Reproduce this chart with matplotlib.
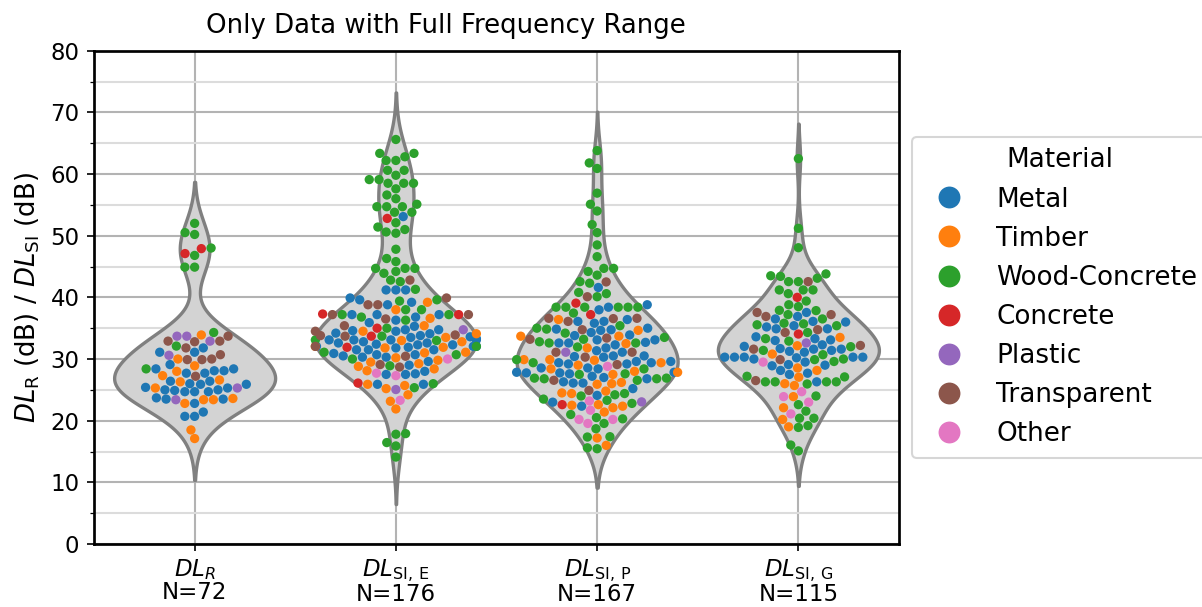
import matplotlib
matplotlib.use("Agg")
import matplotlib.pyplot as plt
from matplotlib.lines import Line2D
from matplotlib.ticker import MultipleLocator
import numpy as np

# material classes and their colours (tab10)
materials = ["Metal", "Timber", "Wood-Concrete", "Concrete", "Plastic", "Transparent", "Other"]
colors = ["#1f77b4", "#ff7f0e", "#2ca02c", "#d62728", "#9467bd", "#8c564b", "#e377c2"]

# DL_R values per material (dB)
dl_r = {
    "Metal": [31.1, 31.8, 31.1, 28.4, 27.7, 27.7, 28.1, 28.1, 28.4, 29.1, 25.9, 25.3, 24.9, 26.4, 26.4,
              24.7, 24.7, 24.7, 25.0, 25.0, 25.4, 25.9, 23.5, 22.8, 23.5, 23.7, 20.7, 20.7, 21.4, 26.0],
    "Timber": [33.9, 30.0, 28.9, 28.0, 27.3, 26.3, 26.6, 25.3, 23.6, 23.4, 22.8, 23.4, 18.5, 17.1],
    "Wood-Concrete": [52.0, 50.5, 50.2, 48.0, 46.8, 44.9, 44.9, 34.3, 32.1, 28.4],
    "Concrete": [47.1, 47.9],
    "Plastic": [33.7, 33.7, 32.9, 30.6, 25.3, 23.4],
    "Transparent": [33.7, 32.9, 31.8, 32.8, 32.9, 30.7, 29.9, 29.9, 30.0, 27.2],
    "Other": [],
}

# DL_SI,E values per material (dB)
dl_si_e = {
    "Metal": [53.1, 41.2, 41.2, 41.2, 39.2, 39.6, 38.8, 39.9, 37.2, 37.2, 36.3, 36.8, 35.9, 37.2, 34.75,
              34.5, 35.3, 34.6, 34.75, 33.1, 33.1, 34.2, 33.6, 33.1, 33.1, 33.3, 33.8, 34.1, 32.6, 32.05,
              31.5, 31.9, 32.05, 32.6, 31.5, 32.05, 32.3, 31.8, 32.4, 31.5, 32.3, 30.7, 30.3, 30.3, 29.6,
              30.5, 30.7, 27.5, 27.5, 27.6, 28.0, 25.9, 25.9, 33.5, 32.8, 30.9, 29.0],
    "Timber": [39.2, 38.0, 36.6, 34.1, 34.5, 35.4, 33.5, 32.8, 33.0, 31.8, 31.1, 31.9, 32.05, 29.25,
               29.5, 28.8, 29.8, 28.4, 28.1, 25.2, 25.7, 25.9, 24.2, 23.15, 21.9, 31.0, 30.2],
    "Wood-Concrete": [65.6, 63.35, 63.35, 62.8, 62.2, 62.2, 60.6, 60.6, 59.8, 59.1, 59.1, 58.5, 58.5,
                      58.5, 57.6, 56.6, 56.0, 55.1, 54.7, 54.7, 54.7, 53.8, 53.8, 52.1, 51.4, 51.0, 50.6,
                      50.4, 47.8, 46.3, 45.8, 44.7, 44.7, 44.7, 44.2, 43.9, 42.8, 42.55, 41.3, 39.6,
                      39.4, 38.0, 38.0, 36.3, 36.8, 37.2, 37.2, 35.0, 33.7, 33.1, 33.0, 32.05, 31.1,
                      30.7, 28.9, 25.35, 26.0, 17.8, 17.9, 16.45, 15.9, 14.1, 30.0],
    "Concrete": [52.8, 37.2, 37.3, 35.0, 33.7, 31.9, 26.1],
    "Plastic": [34.75, 25.05],
    "Transparent": [42.8, 39.9, 38.8, 38.8, 37.2, 36.5, 37.2, 35.4, 33.9, 33.7, 33.8, 32.05, 30.45,
                    29.1, 28.7, 34.5],
    "Other": [30.0, 27.7, 27.3, 23.3],
}

# DL_SI,P values per material (dB)
dl_si_p = {
    "Metal": [41.6, 38.4, 37.98, 38.8, 36.4, 35.8, 36.1, 36.1, 34.3, 34.65, 34.75, 34.85, 35.0, 33.1,
              32.7, 32.3, 33.9, 33.8, 33.1, 32.6, 32.6, 31.35, 31.1, 30.5, 30.5, 30.4, 29.4, 28.55,
              29.6, 29.2, 29.2, 29.6, 29.4, 30.3, 27.75, 27.0, 26.1, 27.6, 28.4, 27.2, 27.75, 28.55,
              26.8, 27.85, 27.85, 26.1, 26.3, 25.2, 24.1, 22.35, 23.0, 31.8],
    "Timber": [36.4, 34.65, 33.7, 32.5, 33.7, 31.8, 29.8, 29.4, 29.9, 29.0, 28.4, 29.9, 27.85, 27.5,
               26.0, 25.9, 26.2, 24.8, 24.4, 24.5, 22.6, 22.35, 22.5, 21.4, 22.1, 17.2, 16.0, 28.0],
    "Wood-Concrete": [63.8, 61.8, 60.9, 56.9, 55.1, 54.0, 51.8, 50.5, 48.5, 46.6, 44.2, 44.7, 44.7,
                      43.6, 42.55, 42.3, 40.8, 40.6, 40.1, 38.4, 38.4, 38.4, 38.4, 38.4, 38.4, 37.45,
                      35.0, 34.85, 34.2, 35.4, 32.6, 32.6, 32.8, 33.2, 33.5, 31.95, 29.9, 28.4, 29.4,
                      26.8, 26.8, 27.5, 27.6, 26.55, 26.9, 26.9, 24.0, 23.5, 24.2, 24.4, 22.8, 23.3,
                      21.0, 20.5, 19.55, 18.7, 20.3, 17.35, 17.4, 15.6, 15.45],
    "Concrete": [39.06, 37.2, 22.6],
    "Plastic": [31.1, 23.05],
    "Transparent": [42.5, 40.1, 36.6, 36.55, 36.1, 36.6, 34.75, 33.4, 33.2, 31.1, 31.1, 30.3, 29.1,
                    26.55, 24.9],
    "Other": [28.8, 23.2, 20.2, 21.7, 20.2, 19.55],
}

# DL_SI,G values per material (dB)
dl_si_g = {
    "Metal": [37.55, 36.5, 36.9, 36.0, 35.2, 34.9, 35.4, 34.9, 36.1, 33.3, 33.1, 33.6, 32.3, 31.6,
              31.1, 31.6, 31.7, 32.05, 31.4, 31.25, 30.3, 30.3, 30.2, 29.5, 29.1, 30.0, 28.9, 29.0,
              30.3, 30.3, 30.3, 28.15, 27.7, 27.5, 26.3, 33.0],
    "Timber": [33.5, 32.15, 30.8, 28.55, 28.15, 27.05, 26.0, 25.7, 23.9, 22.1, 20.2, 19.0],
    "Wood-Concrete": [62.5, 51.2, 48.05, 43.5, 43.1, 42.55, 42.55, 43.4, 43.8, 41.2, 41.2, 40.6, 41.2,
                      39.4, 38.5, 38.8, 37.9, 36.5, 37.2, 37.85, 34.3, 35.7, 33.3, 35.8, 35.55, 35.4,
                      32.9, 32.0, 31.4, 29.9, 30.7, 29.6, 30.0, 27.1, 27.2, 26.3, 25.95, 26.3, 26.3,
                      26.3, 24.0, 22.6, 21.55, 20.4, 20.4, 18.9, 19.2, 16.05, 15.1],
    "Concrete": [40.0, 34.05],
    "Plastic": [32.6],
    "Transparent": [42.55, 36.9, 37.55, 37.2, 34.75, 34.3, 32.2, 31.6, 29.9, 26.5],
    "Other": [29.5, 24.7, 23.9, 23.0, 21.1],
}

groups = [dl_r, dl_si_e, dl_si_p, dl_si_g]
group_names = [r"$DL_R$", r"$DL_\mathrm{SI,\,E}$", r"$DL_\mathrm{SI,\,P}$", r"$DL_\mathrm{SI,\,G}$"]

point_size = 20  # marker area in pt^2
width = 0.8


def draw_violin(ax, pos, values):
    n = len(values)
    bw = values.std(ddof=1) * n ** (-1 / 5)
    grid = np.linspace(values.min() - 2 * bw, values.max() + 2 * bw, 200)
    z = (grid[:, None] - values[None, :]) / bw
    dens = np.exp(-0.5 * z ** 2).sum(axis=1)
    half = dens / dens.max() * width / 2
    ax.fill_betweenx(grid, pos - half, pos + half, facecolor="lightgray",
                     edgecolor="gray", linewidth=1.6, zorder=2)


def draw_swarm(ax, pos, values, point_colors):
    dpi = ax.figure.dpi
    r = np.sqrt(point_size) / 2 * dpi / 72
    pts = ax.transData.transform(np.column_stack([np.full(len(values), pos), values]))
    x_px = np.empty(len(values))
    placed = []
    for i in np.argsort(values, kind="stable"):
        x0, y0 = pts[i]
        neigh = []
        for xj, yj in reversed(placed):
            if y0 - yj < 2 * r:
                neigh.append((xj, yj))
            else:
                break
        cands = [x0]
        left = True
        for xj, yj in neigh:
            dx = np.sqrt(max((2 * r) ** 2 - (y0 - yj) ** 2, 0)) * 1.05
            cands += [xj - dx, xj + dx] if left else [xj + dx, xj - dx]
            left = not left
        cands = np.array(cands)
        cands = cands[np.argsort(np.abs(cands - x0), kind="stable")]
        chosen = cands[0]
        for c in cands:
            if all((c - xj) ** 2 + (y0 - yj) ** 2 >= (2 * r) ** 2 - 1e-6 for xj, yj in neigh):
                chosen = c
                break
        x_px[i] = chosen
        placed.append((chosen, y0))
    xy = ax.transData.inverted().transform(np.column_stack([x_px, pts[:, 1]]))
    # points that do not fit are piled up at the edges of the band
    xs = np.clip(xy[:, 0], pos - width / 2, pos + width / 2)
    ax.scatter(xs, values, s=point_size, c=point_colors, linewidths=0, zorder=3)


fig = plt.figure(figsize=(1202 / 150, 607 / 150), dpi=150)
ax = fig.add_axes([94 / 1202, 63 / 607, 805 / 1202, 493.3 / 607])
ax.set_xlim(-0.5, 3.5)
ax.set_ylim(0, 80)
ax.set_axisbelow(True)

labels = []
for pos, group in enumerate(groups):
    vals, cols = [], []
    for mat, col in zip(materials, colors):
        vals += group[mat]
        cols += [col] * len(group[mat])
    vals = np.array(vals)
    draw_violin(ax, pos, vals)
    draw_swarm(ax, pos, vals, cols)
    labels.append(f"{group_names[pos]}\nN={len(vals)}")

ax.set_xticks(range(len(groups)))
ax.set_xticklabels(labels, fontsize=11, linespacing=0.9)
ax.tick_params(axis="x", pad=3)
ax.yaxis.set_major_locator(MultipleLocator(10))
ax.yaxis.set_minor_locator(MultipleLocator(5))
ax.tick_params(axis="y", labelsize=11)
ax.grid(True, which="major", color="#b3b3b3", linewidth=1.0)
ax.grid(True, axis="y", which="minor", color="#dcdcdc", linewidth=1.0)
for sp in ax.spines.values():
    sp.set_linewidth(1.3)

ax.set_ylabel(r"$DL_\mathrm{R}$ (dB) / $DL_\mathrm{SI}$ (dB)", fontsize=12.5)
ax.set_title("Only Data with Full Frequency Range", fontsize=12.5, x=0.437, pad=8.5)

handles = [Line2D([], [], marker="o", linestyle="none", markersize=10.5,
                  markerfacecolor=c, markeredgewidth=0) for c in colors]
ax.legend(handles, materials, title="Material", loc="center left", bbox_to_anchor=(1, 0.5),
          fontsize=12.6, title_fontsize=12.6)

fig.savefig("out.png", dpi=150)
